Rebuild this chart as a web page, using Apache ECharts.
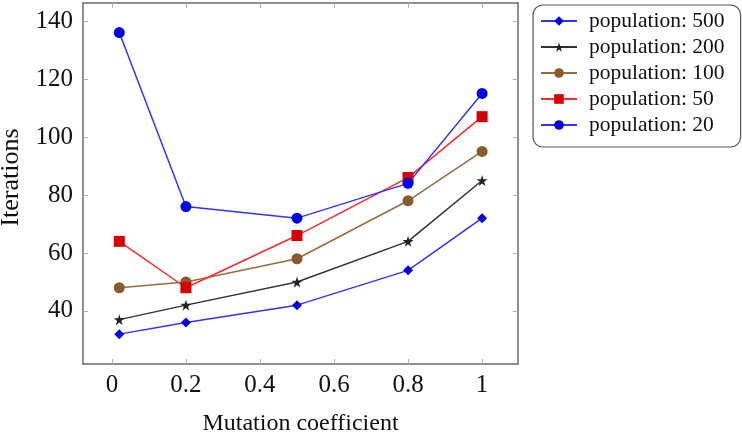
<!DOCTYPE html>
<html><head><meta charset="utf-8">
<script src="https://cdn.jsdelivr.net/npm/echarts@6/dist/echarts.min.js"></script>
<style>html,body{margin:0;padding:0;background:#fff}#c{width:742px;height:437px}</style>
</head><body><div id="c"></div>
<script>
const mutation = [0.02, 0.2, 0.5, 0.8, 1];
const pop500 = [32, 36, 42, 54, 72];
const pop200 = [37, 42, 50, 64, 85];
const pop100 = [48, 50, 58, 78, 95];
const pop50 = [64, 48, 66, 86, 107];
const pop20 = [136, 76, 72, 84, 115];
const xTicks = [0, 0.2, 0.4, 0.6, 0.8, 1];
const yTicks = [40, 60, 80, 100, 120, 140];
const names = ['population: 500','population: 200','population: 100','population: 50','population: 20'];

const font = 'Liberation Serif';
const star = 'path://M50,0 L61,35 L98,35 L68,57 L79,91 L50,70 L21,91 L32,57 L2,35 L39,35 Z';
const pairs = a => a.map((v,i)=>[mutation[i], v]);
const XMIN=-0.078, XMAX=1.097, YMIN=21.7, YMAX=146.2;
const frame = {show:true, onZero:false, lineStyle:{color:'#6b6b6b', width:1.5}};
const tick = {inside:true, length:5, lineStyle:{color:'#b0b0b0', width:1}};

function mk(name, data, color, mcolor, symbol, size){
  return {name, type:'line', data:pairs(data), symbol, symbolSize:size,
    lineStyle:{color, width:1.5}, itemStyle:{color:mcolor}, color:color,
    showSymbol:true, animation:false};
}

const chart = echarts.init(document.getElementById('c'));
chart.setOption({
  animation:false,
  grid:{left:83, top:3, right:224, bottom:73, containLabel:false, outerBoundsMode:'none'},
  xAxis:[{type:'value', min:XMIN, max:XMAX, position:'bottom',
      axisLine:frame, splitLine:{show:false},
      axisTick:Object.assign({customValues:xTicks}, tick),
      axisLabel:{customValues:xTicks, fontFamily:font, fontSize:25, color:'#111', margin:9,
        formatter:v=>String(+v.toFixed(1))},
      name:'Mutation coefficient', nameLocation:'middle', nameGap:48,
      nameTextStyle:{fontFamily:font, fontSize:24, color:'#111'}},
    {type:'value', min:XMIN, max:XMAX, position:'top',
      axisLine:frame, splitLine:{show:false},
      axisTick:Object.assign({customValues:xTicks}, tick),
      axisLabel:{show:false}}],
  yAxis:[{type:'value', min:YMIN, max:YMAX, position:'left',
      axisLine:frame, splitLine:{show:false},
      axisTick:Object.assign({customValues:yTicks}, tick),
      axisLabel:{customValues:yTicks, fontFamily:font, fontSize:25, color:'#111', margin:10},
      name:'Iterations', nameLocation:'middle', nameGap:52, nameRotate:90,
      nameTextStyle:{fontFamily:font, fontSize:26, color:'#111', padding:[0,0,0,12]}},
    {type:'value', min:YMIN, max:YMAX, position:'right',
      axisLine:frame, splitLine:{show:false},
      axisTick:Object.assign({customValues:yTicks}, tick),
      axisLabel:{show:false}}],
  legend:{orient:'vertical', left:533, top:5, data:names,
    itemWidth:36, itemHeight:12, itemGap:4,
    padding:[5,16,11,7], borderColor:'#555', borderWidth:1.2, borderRadius:10,
    textStyle:{fontFamily:font, fontSize:21.5, color:'#111', lineHeight:22, padding:[0,0,0,7]},
    selectedMode:false},
  series:[
    mk(names[0], pop500, '#3333ff', '#0000e6', 'diamond', 10),
    mk(names[1], pop200, '#333333', '#222222', star, 11),
    mk(names[2], pop100, '#9a6a3e', '#8a5a2e', 'circle', 11),
    mk(names[3], pop50, '#ff2a2a', '#d40000', 'rect', 11),
    mk(names[4], pop20, '#3333ff', '#0000e6', 'circle', 11)
  ]
});
</script></body></html>
